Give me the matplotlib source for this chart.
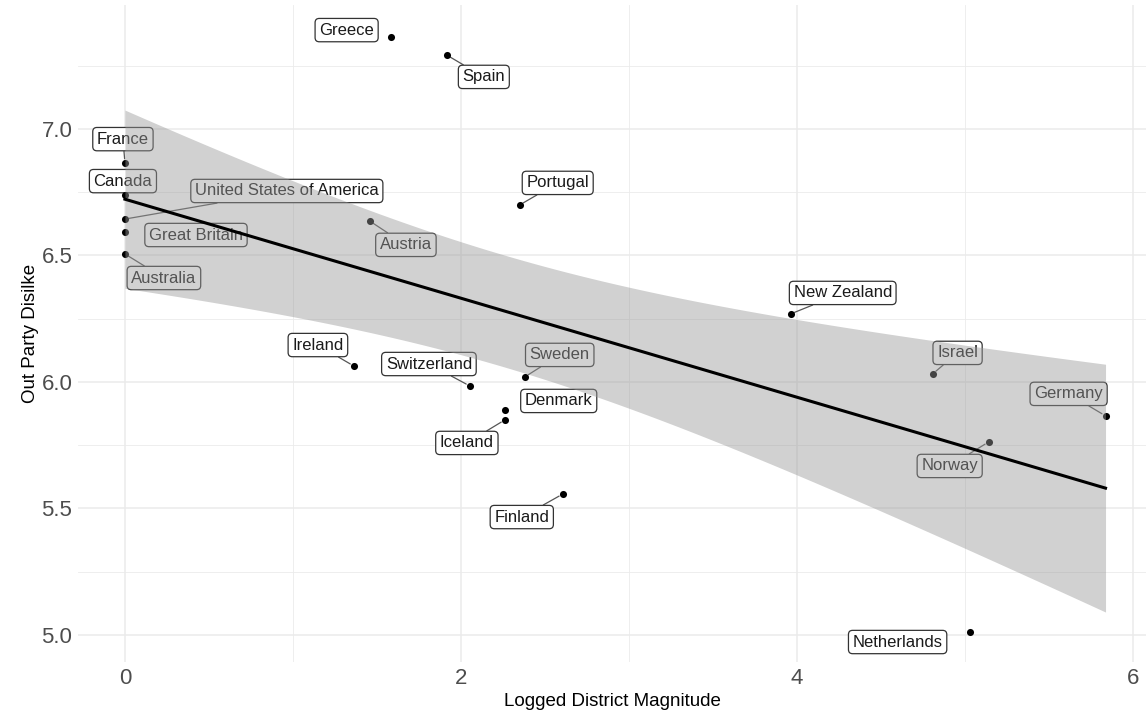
import numpy as np
from matplotlib import pyplot as plt
from matplotlib.ticker import MultipleLocator

# country level data
countries = ["Greece", "Spain", "France", "Canada", "United States of America",
             "Great Britain", "Australia", "Austria", "Portugal", "New Zealand",
             "Ireland", "Switzerland", "Sweden", "Denmark", "Iceland",
             "Israel", "Germany", "Norway", "Finland", "Netherlands"]
district_mag = [1.583, 1.917, 0.0, 0.0, 0.0,
                0.0, 0.0, 1.458, 2.351, 3.964,
                1.363, 2.054, 2.381, 2.262, 2.262,
                4.810, 5.839, 5.143, 2.607, 5.030]
party_dislike = [7.364, 7.292, 6.866, 6.739, 6.644,
                 6.593, 6.506, 6.636, 6.700, 6.269,
                 6.063, 5.984, 6.020, 5.889, 5.850,
                 6.032, 5.866, 5.763, 5.557, 5.010]

# where the repelled labels ended up (label centre, data units)
label_pos = {
   "Greece": (1.32, 7.391), "Spain": (2.137, 7.206), "France": (-0.012, 6.960),
   "Canada": (-0.012, 6.794), "United States of America": (0.964, 6.755),
   "Great Britain": (0.423, 6.581), "Australia": (0.232, 6.411),
   "Austria": (1.673, 6.542), "Portugal": (2.577, 6.787),
   "New Zealand": (4.274, 6.352), "Ireland": (1.149, 6.146),
   "Switzerland": (1.810, 6.071), "Sweden": (2.589, 6.107),
   "Denmark": (2.583, 5.925), "Iceland": (2.036, 5.759),
   "Israel": (4.958, 6.115), "Germany": (5.619, 5.953),
   "Norway": (4.911, 5.668), "Finland": (2.363, 5.466),
   "Netherlands": (4.601, 4.972),
}
no_segment = ["Greece", "Canada", "Great Britain", "Denmark", "Netherlands"]

plt.rcParams['font.family'] = ['Liberation Sans', 'DejaVu Sans']

x = np.array(district_mag)
y = np.array(party_dislike)

# linear fit with 95% confidence band (t quantile for df = n - 2 = 18)
n = len(x)
slope, intercept = np.polyfit(x, y, 1)
resid = y - (intercept + slope * x)
s = np.sqrt(np.sum(resid ** 2) / (n - 2))
sxx = np.sum((x - x.mean()) ** 2)
t_crit = 2.101
xs = np.linspace(x.min(), x.max(), 200)
fit = intercept + slope * xs
se = s * np.sqrt(1.0 / n + (xs - x.mean()) ** 2 / sxx)

fig = plt.figure(figsize=(11.46, 7.10), dpi=100)
ax = fig.add_axes([0.068, 0.0676, 0.932, 0.9324 * (7.49 - 4.893) / (7.51 - 4.893)])

# labels first so the band greys them out like in the original
for name, px, py in zip(countries, x, y):
   lx, ly = label_pos[name]
   if name in no_segment:
      arrow = None
   else:
      arrow = dict(arrowstyle='-', color='#555555', lw=0.9, shrinkA=0, shrinkB=3)
   ax.annotate(name, xy=(px, py), xytext=(lx, ly), textcoords='data',
               ha='center', va='center', fontsize=12, color='#1a1a1a',
               bbox=dict(boxstyle='round,pad=0.25,rounding_size=0.25',
                         fc='white', ec='#333333', lw=0.9),
               arrowprops=arrow, zorder=2)

ax.scatter(x, y, s=26, color='black', zorder=3, linewidths=0)
ax.fill_between(xs, fit - t_crit * se, fit + t_crit * se,
                color='#999999', alpha=0.45, lw=0, zorder=4)
ax.plot(xs, fit, color='black', lw=2.2, zorder=5)

# axes in a minimal theme
ax.set_xlim(-0.28, 6.08)
ax.set_ylim(4.893, 7.49)
ax.xaxis.set_major_locator(MultipleLocator(2))
ax.xaxis.set_minor_locator(MultipleLocator(1))
ax.yaxis.set_major_locator(MultipleLocator(0.5))
ax.yaxis.set_minor_locator(MultipleLocator(0.25))
ax.yaxis.set_major_formatter(plt.FormatStrFormatter('%.1f'))
ax.grid(which='major', color='#ebebeb', lw=1.1, zorder=0)
ax.grid(which='minor', color='#ebebeb', lw=0.6, zorder=0)
ax.set_axisbelow(True)
for sp in ax.spines.values():
   sp.set_visible(False)
ax.tick_params(which='both', length=0, labelsize=16, labelcolor='#4d4d4d', pad=4)

ax.set_xlabel("Logged District Magnitude", fontsize=13.5, labelpad=3)
ax.set_ylabel("Out Party Disilke", fontsize=13.5, labelpad=2)

plt.savefig("out.png", dpi=100)
